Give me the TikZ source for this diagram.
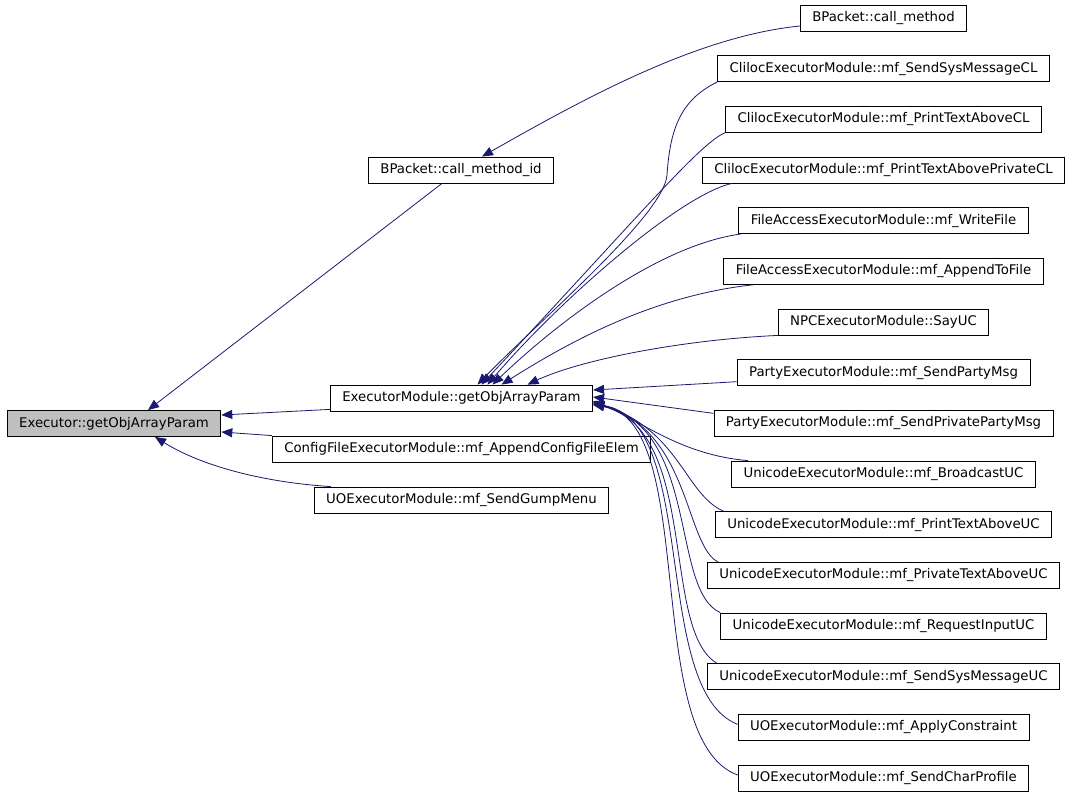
\documentclass[tikz,border=0pt]{standalone}
\usepackage{fontspec}
\setmainfont{DejaVu Sans}
\usetikzlibrary{arrows.meta}

\definecolor{edgeblue}{HTML}{191970}
\definecolor{selgray}{HTML}{BFBFBF}

\begin{document}
\begin{tikzpicture}[
            x = 1pt, y = -1pt, % pixel grid, y going down
            > = {Triangle[length=11pt, width=9pt]}, % arrow head style
            every path/.style = {line width=0.8pt}
        ]

        \tikzstyle{func}=[
            draw = black,
            fill = white,
            minimum height = 26pt,
            inner xsep = 12pt,
            inner ysep = 0pt,
            font = \fontsize{13.3}{16}\selectfont
        ]
        \tikzstyle{call}=[
            draw = edgeblue,
            ->
        ]

        \useasboundingbox (0,0) rectangle (1072,797);

        \node[func, fill = selgray] (ex) at (114,423.5) {Executor::getObjArrayParam};

        \node[func] (cmid) at (461,170) {BPacket::call\_method\_id};
        \node[func] (em) at (461.5,398) {ExecutorModule::getObjArrayParam};
        \node[func] (cf) at (461.5,449) {ConfigFileExecutorModule::mf\_AppendConfigFileElem};
        \node[func] (gump) at (461.5,500) {UOExecutorModule::mf\_SendGumpMenu};

        \node[func] (cm) at (883.5,18) {BPacket::call\_method};
        \foreach \t [count=\i] in {
                ClilocExecutorModule::mf\_SendSysMessageCL,
                ClilocExecutorModule::mf\_PrintTextAboveCL,
                ClilocExecutorModule::mf\_PrintTextAbovePrivateCL,
                FileAccessExecutorModule::mf\_WriteFile,
                FileAccessExecutorModule::mf\_AppendToFile,
                NPCExecutorModule::SayUC,
                PartyExecutorModule::mf\_SendPartyMsg,
                PartyExecutorModule::mf\_SendPrivatePartyMsg,
                UnicodeExecutorModule::mf\_BroadcastUC,
                UnicodeExecutorModule::mf\_PrintTextAboveUC,
                UnicodeExecutorModule::mf\_PrivateTextAboveUC,
                UnicodeExecutorModule::mf\_RequestInputUC,
                UnicodeExecutorModule::mf\_SendSysMessageUC,
                UOExecutorModule::mf\_ApplyConstraint,
                UOExecutorModule::mf\_SendCharProfile}
            \node[func] (r\i) at (883.5,{18+50.67*\i}) {\t};

        % callers of Executor::getObjArrayParam
        \draw[call] ([xshift=-19pt]cmid.south) -- ([xshift=34pt]ex.north);
        \draw[call] ([yshift=2pt]em.south west) -- ([yshift=8.5pt]ex.east);
        \draw[call] (cf.north west) -- ([yshift=-8.5pt]ex.east);
        \draw[call] ([xshift=17pt]gump.north west) .. controls (260,482) and (200,465) .. ([xshift=41pt]ex.south);

        \draw[call] ([yshift=-8pt]cm.west) .. controls (700,36) and (590,95) .. ([xshift=21pt]cmid.north);

        % callers of ExecutorModule::getObjArrayParam
        \draw[call] (r1.south west) .. controls (680,100) and (670,130) .. (667,175)
            .. controls (664,215) and (540,320) .. ([xshift=16pt]em.north);
        \draw[call] (r2.south west) .. controls (700,143) and (640,215) .. ([xshift=20pt]em.north);
        \draw[call] ([xshift=30pt]r3.south west) .. controls (680,195) and (560,300) .. ([xshift=26pt]em.north);
        \draw[call] ([xshift=2pt]r4.south west) .. controls (660,245) and (560,320) .. ([xshift=31pt]em.north);
        \draw[call] ([xshift=30pt]r5.south west) .. controls (660,295) and (580,335) .. ([xshift=40pt]em.north);
        \draw[call] (r6.south west) .. controls (680,340) and (580,360) .. ([xshift=66pt]em.north);
        \draw[call] ([yshift=-9pt]r7.west) -- ([yshift=8pt]em.east);
        \draw[call] ([yshift=10pt]r8.west) -- ([yshift=1pt]em.east);
        \draw[call] ([xshift=17pt]r9.north west) .. controls (680,455) and (640,420) .. ([yshift=-3pt]em.east);
        \draw[call] ([xshift=9pt]r10.north west) .. controls (685,495) and (680,430) .. ([yshift=-4pt]em.east);
        \draw[call] ([xshift=11pt]r11.north west) .. controls (685,545) and (690,430) .. ([yshift=-5pt]em.east);
        \draw[call] (r12.north west) .. controls (670,590) and (700,430) .. ([yshift=-5pt]em.east);
        \draw[call] ([xshift=10pt]r13.north west) .. controls (660,630) and (700,430) .. ([yshift=-6pt]em.east);
        \draw[call] ([yshift=3pt]r14.west) .. controls (650,690) and (700,420) .. ([yshift=-6pt]em.east);
        \draw[call] ([yshift=3pt]r15.west) .. controls (640,740) and (700,420) .. ([yshift=-7pt]em.east);
    \end{tikzpicture}
\end{document}
